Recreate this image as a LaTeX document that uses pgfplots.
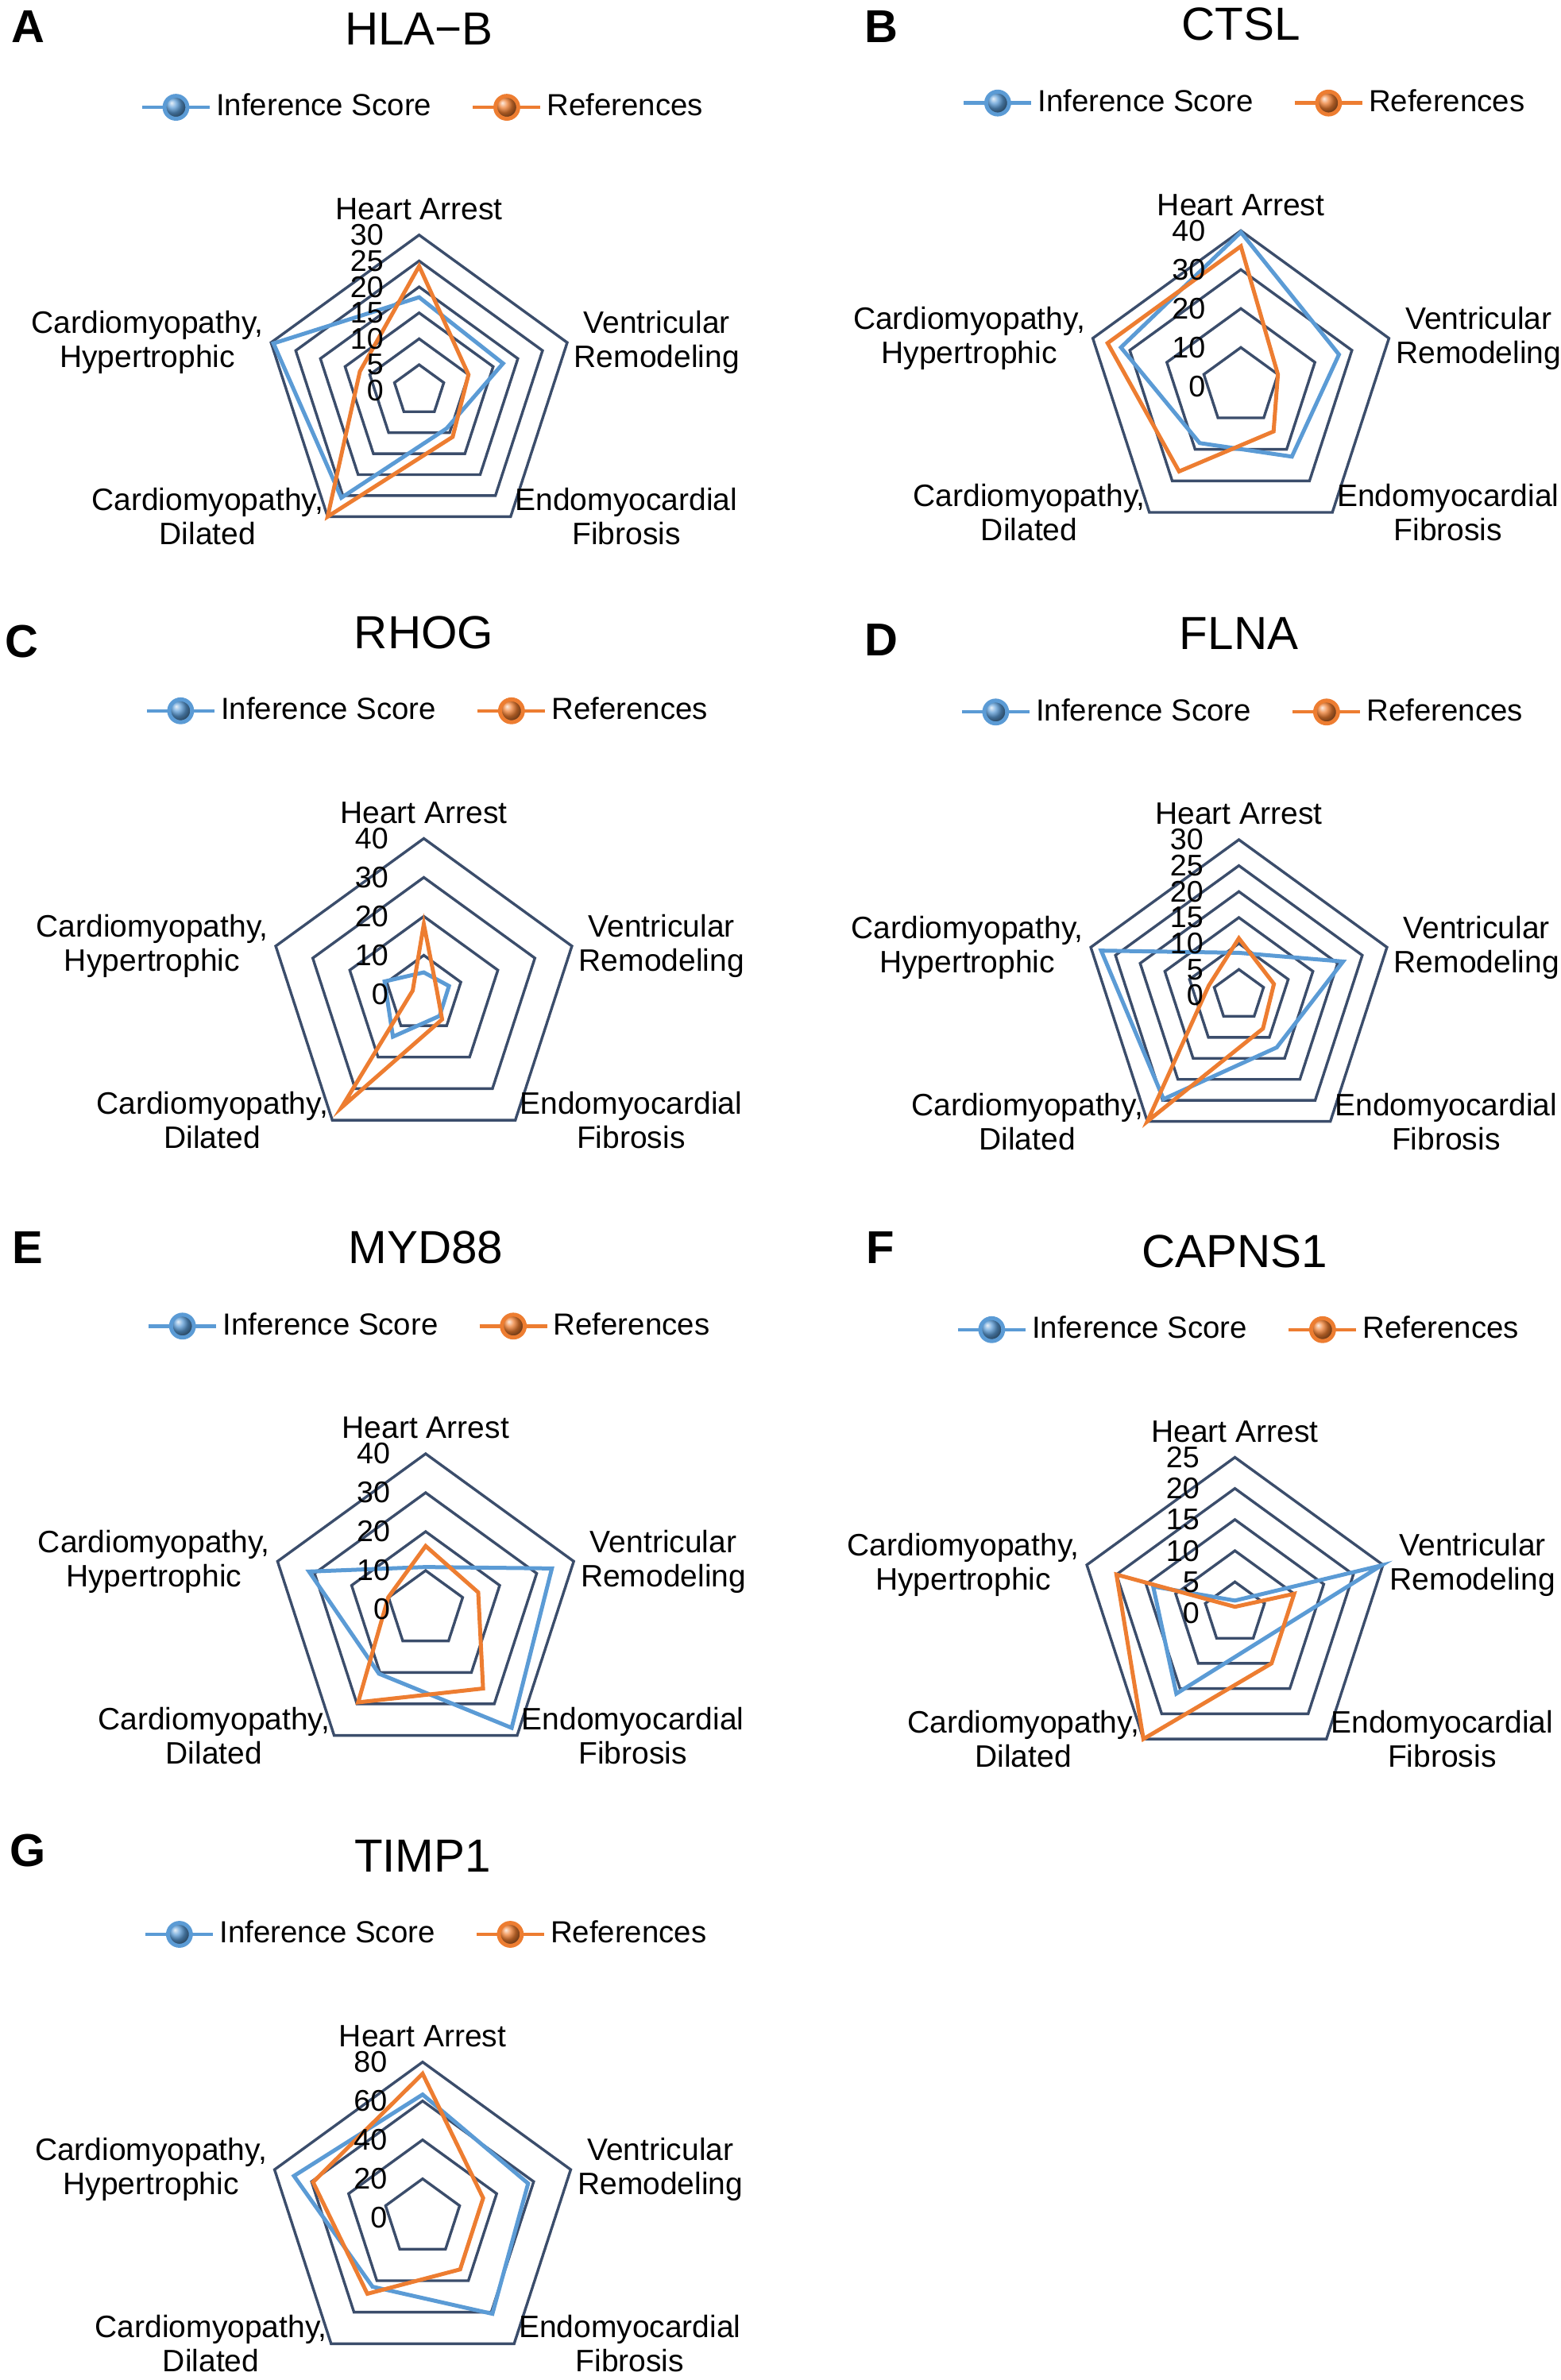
\documentclass[border=0pt]{standalone}
\usepackage{fontspec}
\setmainfont{Liberation Sans}
\usepackage{pgfplots}
\pgfplotsset{compat=1.18}
\usepackage{pgfplotstable}
\definecolor{cblue}{HTML}{5B9BD5}
\definecolor{corange}{HTML}{ED7D31}
\definecolor{cgrid}{HTML}{3B4D6B}
\newcommand{\fs}[2]{\fontsize{#1}{#2}\selectfont}

\pgfplotstableread{
a r
90 1
18 1
-54 1
-126 1
162 1
90 1
18 1
}\pent

% columns: angle, Inference Score, References  (first two rows repeated to close the polygon)
\pgfplotstableread{
a inf ref
90 18 24
18 17 10
-54 9 11
-126 25.5 30
162 29.5 12
90 18 24
18 17 10
}\dataA
\pgfplotstableread{
a inf ref
90 39.6 36
18 26.5 10
-54 22.3 14.3
-126 18 27
162 32.4 36
90 39.6 36
18 26.5 10
}\dataB
\pgfplotstableread{
a inf ref
90 5.6 18
18 6.8 3.5
-54 6.9 8
-126 13.5 36
162 10.6 3
90 5.6 18
18 6.8 3.5
}\dataC
\pgfplotstableread{
a inf ref
90 8.2 11
18 21.1 7.1
-54 12.4 7.9
-126 24.7 30
162 27.9 6.1
90 8.2 11
18 21.1 7.1
}\dataD
\pgfplotstableread{
a inf ref
90 10.9 16.3
18 34.1 14.2
-54 37.6 25.1
-126 20.4 29.5
162 31.5 10.1
90 10.9 16.3
18 34.1 14.2
}\dataE
\pgfplotstableread{
a inf ref
90 2 1
18 24.7 10
-54 6 10
-126 16 25
162 13.8 20
90 2 1
18 24.7 10
}\dataF
\pgfplotstableread{
a inf ref
90 63.3 74
18 57 32.7
-54 61 32.8
-126 43.8 48.3
162 69.5 59.2
90 63.3 74
18 57 32.7
}\dataG

\pgfplotsset{
  radar/.style={
    hide axis, scale only axis, width=127.4pt, height=127.4pt, clip=false, anchor=center,
    xmin=-#1, xmax=#1, ymin=-#1, ymax=#1,
    legend columns=2,
    legend cell align=left,
    legend style={at={(-0.19,1.2)}, anchor=west, draw=none, fill=none, inner sep=0pt,
      font=\fs{9.6pt}{11pt},
      nodes={inner xsep=0pt, inner ysep=0pt},
      /tikz/column 1/.style={column sep=1.5pt},
      /tikz/column 2/.style={column sep=12.5pt},
      /tikz/column 3/.style={column sep=1.5pt}},
  },
  gridline/.style={cgrid, line width=0.85pt, line join=miter, forget plot, no markers},
  infline/.style={cblue, line width=1.25pt, line join=miter, no markers,
    legend image code/.code={\draw[cblue, line width=1.1pt] (0pt,0pt) -- (21.25pt,0pt);
      \shade[ball color=cblue] (10.625pt,0pt) circle (3.6pt);}},
  refline/.style={corange, line width=1.25pt, line join=miter, no markers,
    legend image code/.code={\draw[corange, line width=1.1pt] (0pt,0pt) -- (21.25pt,0pt);
      \shade[ball color=corange] (10.625pt,0pt) circle (3.6pt);}},
}
\tikzset{
  catlab/.style={font=\fs{9.75pt}{10.75pt}, align=center, inner sep=0pt},
  ticklab/.style={font=\fs{9.4pt}{10pt}, anchor=east, inner sep=0pt, xshift=-11pt},
  ttl/.style={font=\fs{14.6pt}{16pt}, anchor=base, inner sep=0pt},
  letter/.style={font=\bfseries\fs{14.5pt}{16pt}, anchor=base west, inner sep=0pt},
}

\newcommand{\catlabels}[1]{%
  \node[catlab, anchor=south, yshift=4.5pt] at (axis cs:0,#1) {Heart Arrest};
  \node[catlab, anchor=west, xshift=2pt] at (axis cs:{#1*cos(18)},{#1*sin(18)}) {Ventricular\\Remodeling};
  \node[catlab, anchor=west, xshift=1.25pt] at (axis cs:{#1*cos(-54)},{#1*sin(-54)}) {Endomyocardial\\Fibrosis};
  \node[catlab, anchor=east, xshift=-1.1pt] at (axis cs:{#1*cos(-126)},{#1*sin(-126)}) {Cardiomyopathy,\\Dilated};
  \node[catlab, anchor=east, xshift=-2.2pt] at (axis cs:{#1*cos(162)},{#1*sin(162)}) {Cardiomyopathy,\\Hypertrophic};
}
\newcommand{\series}[1]{%
  \addplot[infline] table[x expr={\thisrow{inf}*cos(\thisrow{a})}, y expr={\thisrow{inf}*sin(\thisrow{a})}] {#1};
  \addlegendentry{Inference Score}
  \addplot[refline] table[x expr={\thisrow{ref}*cos(\thisrow{a})}, y expr={\thisrow{ref}*sin(\thisrow{a})}] {#1};
  \addlegendentry{References}
}
\newcommand{\grid}[1]{%
  \pgfplotsinvokeforeach{#1}{\addplot[gridline] table[x expr={##1*\thisrow{r}*cos(\thisrow{a})}, y expr={##1*\thisrow{r}*sin(\thisrow{a})}] {\pent};}%
}

\begin{document}
\begin{tikzpicture}
\useasboundingbox (0pt,0pt) rectangle (491.25pt,-749pt);

% ---------- A ----------
\begin{axis}[radar=39, at={(131.9pt,-122.95pt)}]
\grid{5,10,15,20,25,30}
\series{\dataA}
\pgfplotsinvokeforeach{0,5,10,15,20,25,30}{\node[ticklab] at (axis cs:0,#1) {#1};}
\catlabels{30}
\node[ttl] at (axis description cs:0.5,1.3546) {HLA−B};
\end{axis}

% ---------- B ----------
\begin{axis}[radar=52, at={(390.5pt,-121.6pt)}]
\grid{10,20,30,40}
\series{\dataB}
\pgfplotsinvokeforeach{0,10,20,30,40}{\node[ticklab] at (axis cs:0,#1) {#1};}
\catlabels{40}
\node[ttl] at (axis description cs:0.5,1.3546) {CTSL};
\end{axis}

% ---------- C ----------
\begin{axis}[radar=52, at={(133.375pt,-312.875pt)}]
\grid{10,20,30,40}
\series{\dataC}
\pgfplotsinvokeforeach{0,10,20,30,40}{\node[ticklab] at (axis cs:0,#1) {#1};}
\catlabels{40}
\node[ttl] at (axis description cs:0.5,1.3546) {RHOG};
\end{axis}

% ---------- D ----------
\begin{axis}[radar=39, at={(389.875pt,-313.25pt)}]
\grid{5,10,15,20,25,30}
\series{\dataD}
\pgfplotsinvokeforeach{0,5,10,15,20,25,30}{\node[ticklab] at (axis cs:0,#1) {#1};}
\catlabels{30}
\node[ttl] at (axis description cs:0.5,1.3546) {FLNA};
\end{axis}

% ---------- E ----------
\begin{axis}[radar=52, at={(133.95pt,-506.5pt)}]
\grid{10,20,30,40}
\series{\dataE}
\pgfplotsinvokeforeach{0,10,20,30,40}{\node[ticklab] at (axis cs:0,#1) {#1};}
\catlabels{40}
\node[ttl] at (axis description cs:0.5,1.3546) {MYD88};
\end{axis}

% ---------- F ----------
\begin{axis}[radar=32.5, at={(388.625pt,-507.625pt)}]
\grid{5,10,15,20,25}
\series{\dataF}
\pgfplotsinvokeforeach{0,5,10,15,20,25}{\node[ticklab] at (axis cs:0,#1) {#1};}
\catlabels{25}
\node[ttl] at (axis description cs:0.5,1.3546) {CAPNS1};
\end{axis}

% ---------- G ----------
\begin{axis}[radar=104, at={(133pt,-697.925pt)}]
\grid{20,40,60,80}
\series{\dataG}
\pgfplotsinvokeforeach{0,20,40,60,80}{\node[ticklab] at (axis cs:0,#1) {#1};}
\catlabels{80}
\node[ttl] at (axis description cs:0.5,1.3546) {TIMP1};
\end{axis}

% panel letters
\node[letter] at (3.5pt,-13.5pt) {A};
\node[letter] at (272pt,-13.5pt) {B};
\node[letter] at (1.4pt,-206.75pt) {C};
\node[letter] at (272pt,-206.4pt) {D};
\node[letter] at (3.75pt,-397.5pt) {E};
\node[letter] at (272.4pt,-397.5pt) {F};
\node[letter] at (3pt,-587.25pt) {G};
\end{tikzpicture}
\end{document}
